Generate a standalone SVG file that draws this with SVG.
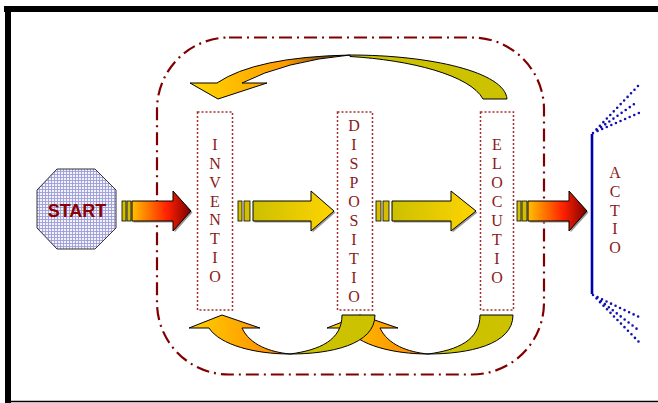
<svg xmlns="http://www.w3.org/2000/svg" xmlns:xlink="http://www.w3.org/1999/xlink" width="658" height="403" viewBox="0 0 658 403">
<defs>
<style>
.box{fill:none;stroke:#A03030;stroke-width:1.5;stroke-dasharray:2 2}
.lbl{font-family:"Liberation Serif","Times New Roman",serif;font-size:16px;fill:#8B1A1A;text-anchor:middle}
.ar{stroke:#000;stroke-width:1;stroke-linejoin:miter}
.bar{fill:#D4BE00;stroke:#000;stroke-width:0.8}
.sh{fill:#999;stroke:none}
.dots{fill:none;stroke:#1010B0;stroke-width:2.6;stroke-linecap:round;stroke-dasharray:0 5}
</style>
<pattern id="grid" width="3" height="3" patternUnits="userSpaceOnUse">
<rect width="3" height="3" fill="#F2F2FC"/>
<path d="M0,0.5H3M0.5,0V3" stroke="#9C9CD8" stroke-width="0.9"/>
</pattern>
<linearGradient id="gRed" x1="0" y1="0" x2="1" y2="0">
<stop offset="0" stop-color="#FFC000"/>
<stop offset="0.6" stop-color="#FF2000"/>
<stop offset="1" stop-color="#7A0000"/>
</linearGradient>
<linearGradient id="gYel" x1="0" y1="0" x2="1" y2="0">
<stop offset="0" stop-color="#CCC000"/>
<stop offset="1" stop-color="#FFD400"/>
</linearGradient>
<linearGradient id="gOrT" x1="190" y1="0" x2="350" y2="0" gradientUnits="userSpaceOnUse">
<stop offset="0" stop-color="#FFD800"/>
<stop offset="0.6" stop-color="#FF9A00"/>
<stop offset="1" stop-color="#3A2000"/>
</linearGradient>
<linearGradient id="gOrB" x1="190" y1="0" x2="290" y2="0" gradientUnits="userSpaceOnUse">
<stop offset="0" stop-color="#FFD000"/>
<stop offset="1" stop-color="#FF8000"/>
</linearGradient>
<g id="btm">
<path class="ar" fill="url(#gOrB)" d="M189,328 L222,315 L260,328 L242,328 C250,345 270,352 290,354 C255,354 220,345 209,328 Z"/>
<path class="ar" fill="#CCC200" d="M342,315 L375,315 C375,345 330,354 290,354 C320,350 342,340 342,315 Z"/>
</g>
</defs>
<rect width="658" height="403" fill="#fff"/>
<g id="frame">
<rect x="4" y="6" width="654" height="6" fill="#000"/>
<rect x="5" y="6" width="6" height="397" fill="#000"/>
<line x1="11" y1="401.5" x2="658" y2="401.5" stroke="#000" stroke-width="1.5"/>
</g>
<g id="cycle">
<rect x="157" y="37.5" width="387" height="337" rx="72" ry="72" fill="none" stroke="#800000" stroke-width="2.2" stroke-dasharray="13 5 2 5"/>
</g>
<g id="connectors">
<g id="arrow-start">
<polygon class="sh" points="133.5,202.5 174.5,202.5 174.5,192.5 192.5,212.5 174.5,232.5 174.5,222.5 133.5,222.5"/>
<rect class="bar" x="122" y="201" width="4" height="20"/>
<rect class="bar" x="127" y="201" width="4" height="20"/>
<polygon class="ar" fill="url(#gRed)" points="132,201 173,201 173,191 191,211 173,231 173,221 132,221"/>
</g>
<g id="arrow-inv-dis">
<polygon class="sh" points="254.5,202.5 312.5,202.5 312.5,192.5 335.5,212.5 312.5,232.5 312.5,222.5 254.5,222.5"/>
<rect class="bar" x="238" y="201" width="4" height="20"/>
<rect class="bar" x="244" y="201" width="6" height="20"/>
<polygon class="ar" fill="url(#gYel)" points="253,201 311,201 311,191 334,211 311,231 311,221 253,221"/>
</g>
<g id="arrow-dis-elo">
<polygon class="sh" points="393.5,202.5 452.5,202.5 452.5,192.5 477.5,212.5 452.5,232.5 452.5,222.5 393.5,222.5"/>
<rect class="bar" x="376" y="201" width="5" height="20"/>
<rect class="bar" x="383" y="201" width="6" height="20"/>
<polygon class="ar" fill="url(#gYel)" points="392,201 451,201 451,191 476,211 451,231 451,221 392,221"/>
</g>
<g id="arrow-elo-act">
<polygon class="sh" points="529.5,202.5 570.5,202.5 570.5,192.5 588.5,212.5 570.5,232.5 570.5,222.5 529.5,222.5"/>
<rect class="bar" x="517" y="201" width="4" height="20"/>
<rect class="bar" x="522" y="201" width="5" height="20"/>
<polygon class="ar" fill="url(#gRed)" points="528,201 569,201 569,191 587,211 569,231 569,221 528,221"/>
</g>
<g id="arrow-top">
<path class="ar" fill="#CCC200" d="M350,55 C430,55 505,72 507,99 L483,99 C470,75 410,60 350,56.5 Z"/>
<path class="ar" fill="url(#gOrT)" d="M218,99 L190,83 L217,83 Q255,57 350,55 Q285,61 242,83 L267,83 Z"/>
</g>
<g id="arrow-bottom-2">
<use xlink:href="#btm" transform="translate(138,0)"/>
</g>
<g id="arrow-bottom-1">
<use xlink:href="#btm"/>
</g>
</g>
<g id="start">
<polygon points="57,169 95,169 116,190 116,228 95,249 57,249 37,228 37,190" fill="url(#grid)" stroke="#333" stroke-width="1"/>
<text x="77" y="216.5" font-family="'Liberation Sans',Arial,sans-serif" font-size="18" font-weight="bold" fill="#8B0000" text-anchor="middle">START</text>
</g>
<g id="inventio">
<rect class="box" x="197.5" y="112" width="35" height="198"/>
<text class="lbl" x="215"><tspan x="215" y="150">I</tspan><tspan x="215" y="168.9">N</tspan><tspan x="215" y="187.7">V</tspan><tspan x="215" y="206.6">E</tspan><tspan x="215" y="225.4">N</tspan><tspan x="215" y="244.3">T</tspan><tspan x="215" y="263.1">I</tspan><tspan x="215" y="282">O</tspan></text>
</g>
<g id="dispositio">
<rect class="box" x="337.5" y="112" width="35" height="198"/>
<text class="lbl" x="354"><tspan x="354" y="131">D</tspan><tspan x="354" y="150">I</tspan><tspan x="354" y="169">S</tspan><tspan x="354" y="188">P</tspan><tspan x="354" y="207">O</tspan><tspan x="354" y="226">S</tspan><tspan x="354" y="245">I</tspan><tspan x="354" y="264">T</tspan><tspan x="354" y="283">I</tspan><tspan x="354" y="302">O</tspan></text>
</g>
<g id="elocutio">
<rect class="box" x="480.5" y="112" width="33" height="198"/>
<text class="lbl" x="497"><tspan x="497" y="150">E</tspan><tspan x="497" y="169">L</tspan><tspan x="497" y="188">O</tspan><tspan x="497" y="207">C</tspan><tspan x="497" y="226">U</tspan><tspan x="497" y="245">T</tspan><tspan x="497" y="264">I</tspan><tspan x="497" y="283">O</tspan></text>
</g>
<g id="actio">
<line x1="592" y1="134" x2="592" y2="294" stroke="#0000A8" stroke-width="2.6"/>
<path class="dots" d="M593,133 L639,85 M593,133 L637,102 M593,133 L639,113 M593,295 L639,317 M593,295 L637,329 M593,295 L639,342"/>
<text class="lbl" x="615"><tspan x="615" y="178">A</tspan><tspan x="615" y="196.8">C</tspan><tspan x="615" y="215.5">T</tspan><tspan x="615" y="234.3">I</tspan><tspan x="615" y="253">O</tspan></text>
</g>
</svg>
